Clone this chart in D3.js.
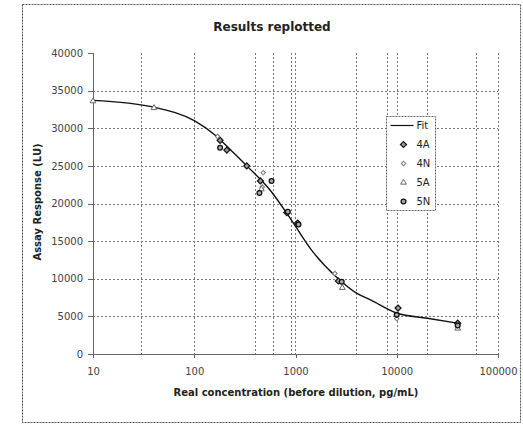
<html lang="en">
<head>
<meta charset="utf-8">
<title>Results replotted</title>
<script src="https://cdn.jsdelivr.net/npm/d3@7"></script>
<style>
    body { margin: 0; background: #fff; }
    text { font-family: "DejaVu Sans", sans-serif; fill: #222; }
    .axis path, .axis line { stroke: #666; shape-rendering: crispEdges; }
    .axis text { font-size: 10px; fill: #444; }
    .grid line { stroke: #777; stroke-dasharray: 2,2; shape-rendering: crispEdges; }
</style>
</head>
<body>
<script>
    // fit curve
    var fitConc = [10, 40, 100, 160, 225, 330, 560, 900, 1500, 2500, 4000, 5500, 10000, 20000, 40000];
    var fitResp = [33700, 32800, 31000, 29100, 27200, 25000, 21800, 17900, 13500, 10300, 8100, 7200, 5450, 4750, 4100];

    // measured points
    var conc4A = [180, 210, 330, 450, 820, 1050, 2650, 10300, 40000];
    var resp4A = [28400, 27100, 25000, 23000, 18800, 17400, 9700, 6100, 4100];
    var conc4N = [170, 480, 470, 2450, 10000];
    var resp4N = [28900, 24100, 22200, 10700, 4700];
    var conc5A = [10, 40, 460, 2900, 40000];
    var resp5A = [33600, 32700, 21900, 8800, 3400];
    var conc5N = [180, 580, 440, 840, 1070, 2860, 10000, 40000];
    var resp5N = [27400, 23000, 21400, 18900, 17200, 9600, 5200, 3800];

    var xTicks = [10, 100, 1000, 10000, 100000];
    var yTicks = [0, 5000, 10000, 15000, 20000, 25000, 30000, 35000, 40000];
    var xGrid = [30, 100, 400, 600, 900, 1000, 4000, 8000, 10000, 20000, 60000, 100000];
    var yGrid = [5000, 10000, 15000, 20000, 25000, 30000, 35000];
    var legendNames = ["Fit", "4A", "4N", "5A", "5N"];

    var w = 523, h = 424;
    var svg = d3.select("body").append("svg").attr("width", w).attr("height", h);

    // outer chart border
    svg.append("rect")
        .attr("x", 22.5).attr("y", 4.5)
        .attr("width", 498).attr("height", 418)
        .attr("fill", "none").attr("stroke", "#555")
        .attr("stroke-dasharray", "2,1");

    var xScale = d3.scaleLog().domain([10, 100000]).range([93, 498]);
    var yScale = d3.scaleLinear().domain([0, 40000]).range([354, 53]);

    // gridlines
    var grid = svg.append("g").attr("class", "grid");
    grid.selectAll("line.v").data(xGrid).enter().append("line")
        .attr("class", "v")
        .attr("x1", function(d) { return Math.round(xScale(d)) + 0.5; })
        .attr("x2", function(d) { return Math.round(xScale(d)) + 0.5; })
        .attr("y1", yScale(40000)).attr("y2", yScale(0));
    grid.selectAll("line.h").data(yGrid).enter().append("line")
        .attr("class", "h")
        .attr("x1", xScale(10)).attr("x2", xScale(100000))
        .attr("y1", function(d) { return Math.round(yScale(d)) + 0.5; })
        .attr("y2", function(d) { return Math.round(yScale(d)) + 0.5; });

    // axes
    var xAxis = d3.axisBottom(xScale).tickValues(xTicks).tickFormat(d3.format("d"))
        .tickSize(4).tickPadding(10);
    var yAxis = d3.axisLeft(yScale).tickValues(yTicks).tickFormat(d3.format("d"))
        .tickSize(5).tickPadding(5);
    svg.append("g").attr("class", "axis")
        .attr("transform", "translate(0," + yScale(0) + ")")
        .call(xAxis);
    svg.append("g").attr("class", "axis")
        .attr("transform", "translate(" + xScale(10) + ",0)")
        .call(yAxis);
    svg.selectAll(".axis .domain").attr("stroke", "#666");

    // fit line
    var fitData = fitConc.map(function(c, i) { return [c, fitResp[i]]; });
    var line = d3.line()
        .x(function(d) { return xScale(d[0]); })
        .y(function(d) { return yScale(d[1]); })
        .curve(d3.curveMonotoneX);
    svg.append("path")
        .attr("d", line(fitData))
        .attr("fill", "none").attr("stroke", "#111").attr("stroke-width", 1.4);

    // marker styles
    var styles = {
        "4A": { type: d3.symbolSquare, size: 18, rot: 45, fill: "#999", stroke: "#111", sw: 1.2 },
        "4N": { type: d3.symbolSquare, size: 10, rot: 45, fill: "#fff", stroke: "#777", sw: 1 },
        "5A": { type: d3.symbolTriangle, size: 14, rot: 0, fill: "#fff", stroke: "#666", sw: 1 },
        "5N": { type: d3.symbolCircle, size: 18, rot: 0, fill: "#aaa", stroke: "#111", sw: 1.3 }
    };

    function drawSeries(name, conc, resp) {
        var s = styles[name];
        var pts = conc.map(function(c, i) { return [c, resp[i]]; });
        svg.append("g").selectAll("path").data(pts).enter().append("path")
            .attr("d", d3.symbol().type(s.type).size(s.size))
            .attr("transform", function(d) {
                return "translate(" + xScale(d[0]) + "," + yScale(d[1]) + ") rotate(" + s.rot + ")";
            })
            .attr("fill", s.fill).attr("stroke", s.stroke).attr("stroke-width", s.sw);
    }
    drawSeries("4A", conc4A, resp4A);
    drawSeries("4N", conc4N, resp4N);
    drawSeries("5A", conc5A, resp5A);
    drawSeries("5N", conc5N, resp5N);

    // legend
    var legend = svg.append("g").attr("transform", "translate(386.5,116.5)");
    legend.append("rect")
        .attr("width", 49).attr("height", 94)
        .attr("fill", "#fff").attr("stroke", "#666").attr("stroke-dasharray", "2,1");
    legendNames.forEach(function(n, i) {
        var cy = 9 + i * 19;
        if (n == "Fit") {
            legend.append("line")
                .attr("x1", 4).attr("x2", 27).attr("y1", cy).attr("y2", cy)
                .attr("stroke", "#111").attr("stroke-width", 1.2);
        } else {
            var s = styles[n];
            legend.append("path")
                .attr("d", d3.symbol().type(s.type).size(s.size))
                .attr("transform", "translate(17," + cy + ") rotate(" + s.rot + ")")
                .attr("fill", s.fill).attr("stroke", s.stroke).attr("stroke-width", s.sw);
        }
        legend.append("text")
            .attr("x", 30).attr("y", cy).attr("dy", "0.35em")
            .attr("font-size", "10px")
            .text(n);
    });

    // titles
    svg.append("text")
        .attr("x", 272).attr("y", 27).attr("dy", "0.35em")
        .attr("text-anchor", "middle")
        .attr("font-size", "12px").attr("font-weight", "bold")
        .attr("fill", "#111")
        .text("Results replotted");
    svg.append("text")
        .attr("x", 296).attr("y", 392).attr("dy", "0.35em")
        .attr("text-anchor", "middle")
        .attr("font-size", "10px").attr("font-weight", "bold")
        .text("Real concentration (before dilution, pg/mL)");
    svg.append("text")
        .attr("transform", "translate(37,202) rotate(-90)")
        .attr("dy", "0.35em")
        .attr("text-anchor", "middle")
        .attr("font-size", "10px").attr("font-weight", "bold")
        .text("Assay Response (LU)");
</script>
</body>
</html>
